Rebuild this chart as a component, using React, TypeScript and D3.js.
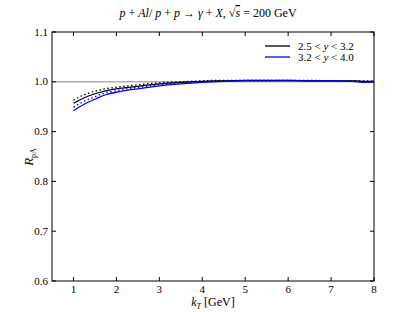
import React from 'react';
import * as d3 from 'd3';

// kT grid [GeV]
const kT = [1.0, 1.25, 1.5, 1.75, 2.0, 2.5, 3.0, 3.5, 4.0, 4.5, 5.0, 5.5, 6.0, 6.5, 7.0, 7.5, 7.8, 8.0];

// 2.5 < y < 3.2
const fwdCentral = [0.957, 0.968, 0.976, 0.982, 0.986, 0.991, 0.996, 0.999, 1.001, 1.002, 1.003, 1.003, 1.003, 1.002, 1.002, 1.002, 1.001, 1.001];
const fwdUpper = [0.963, 0.974, 0.981, 0.986, 0.989, 0.994, 0.998, 1.000, 1.002, 1.003, 1.003, 1.003, 1.003, 1.003, 1.002, 1.002, 1.002, 1.002];

// 3.2 < y < 4.0
const vfwdCentral = [0.942, 0.955, 0.965, 0.974, 0.979, 0.986, 0.992, 0.996, 0.999, 1.001, 1.002, 1.002, 1.002, 1.002, 1.002, 1.001, 0.999, 1.000];
const vfwdUpper = [0.949, 0.961, 0.970, 0.978, 0.982, 0.989, 0.994, 0.998, 1.000, 1.002, 1.002, 1.002, 1.003, 1.002, 1.002, 1.002, 1.000, 1.001];

const xTicks = [1, 2, 3, 4, 5, 6, 7, 8];
const yTicks = [0.6, 0.7, 0.8, 0.9, 1.0, 1.1];

const serif = '"Liberation Serif", serif';

const App = () => {
  const margin = { top: 32, right: 41, bottom: 31, left: 52 };
  const W = 415, H = 312;
  const width = W - margin.left - margin.right;
  const height = H - margin.top - margin.bottom;

  const x = d3.scaleLinear().domain([0.5, 8]).range([0, width]);
  const y = d3.scaleLinear().domain([0.6, 1.1]).range([height, 0]);

  const line = (vals: number[]) =>
    d3.line<number>().x((_, i) => x(kT[i])).y((d) => y(d)).curve(d3.curveMonotoneX)(vals) || '';

  const series = [
    { vals: fwdUpper, color: '#000', dash: '1.5,2.5' },
    { vals: vfwdUpper, color: '#0000ff', dash: '1.5,2.5' },
    { vals: fwdCentral, color: '#000', dash: null },
    { vals: vfwdCentral, color: '#0000ff', dash: null },
  ];

  return (
    <svg width={W} height={H} style={{ position: 'absolute', left: 0, top: 0, fontFamily: serif }}>
      <rect width={W} height={H} fill="#fff" />
      <text x={208} y={17} textAnchor="middle" fontSize={12}>
        <tspan fontStyle="italic">p</tspan> + <tspan fontStyle="italic">Al</tspan>/ <tspan fontStyle="italic">p</tspan> + <tspan fontStyle="italic">p</tspan> → <tspan fontStyle="italic">γ</tspan> + <tspan fontStyle="italic">X</tspan>, √<tspan textDecoration="overline" fontStyle="italic">s</tspan> = 200 GeV
      </text>
      <g transform={`translate(${margin.left},${margin.top})`}>
        <line x1={0} x2={width} y1={y(1)} y2={y(1)} stroke="#888" strokeWidth={1} />
        {series.map((s, i) => (
          <path key={i} d={line(s.vals)} fill="none" stroke={s.color}
            strokeWidth={1.3} strokeDasharray={s.dash || undefined} />
        ))}
        <rect x={0} y={0} width={width} height={height} fill="none" stroke="#000" strokeWidth={1} />
        {xTicks.map((t) => (
          <g key={t}>
            <line x1={x(t)} x2={x(t)} y1={height} y2={height - 4} stroke="#000" />
            <line x1={x(t)} x2={x(t)} y1={0} y2={4} stroke="#000" />
            <text x={x(t)} y={height + 12} textAnchor="middle" fontSize={11}>{t}</text>
          </g>
        ))}
        {yTicks.map((t) => (
          <g key={t}>
            <line x1={0} x2={4} y1={y(t)} y2={y(t)} stroke="#000" />
            <line x1={width} x2={width - 4} y1={y(t)} y2={y(t)} stroke="#000" />
            <text x={-4} y={y(t) + 3.5} textAnchor="end" fontSize={11}>{t.toFixed(1)}</text>
          </g>
        ))}
        <g transform={`translate(${width - 109},14)`} fontSize={11}>
          <line x1={0} x2={25} y1={0} y2={0} stroke="#000" strokeWidth={1.3} />
          <text x={33} y={3.5}>2.5 &lt; <tspan fontStyle="italic">y</tspan> &lt; 3.2</text>
          <line x1={0} x2={25} y1={11} y2={11} stroke="#0000ff" strokeWidth={1.3} />
          <text x={33} y={14.5}>3.2 &lt; <tspan fontStyle="italic">y</tspan> &lt; 4.0</text>
        </g>
      </g>
      <text x={213} y={306} textAnchor="middle" fontSize={12}>
        <tspan fontStyle="italic">k</tspan><tspan fontStyle="italic" fontSize={8} dy={3}>T</tspan><tspan dy={-3}> [GeV]</tspan>
      </text>
      <text transform="translate(33,157) rotate(-90)" textAnchor="middle" fontSize={13}>
        <tspan fontStyle="italic">R</tspan><tspan fontSize={8} dy={3}>pA</tspan>
      </text>
    </svg>
  );
};

export default App;
